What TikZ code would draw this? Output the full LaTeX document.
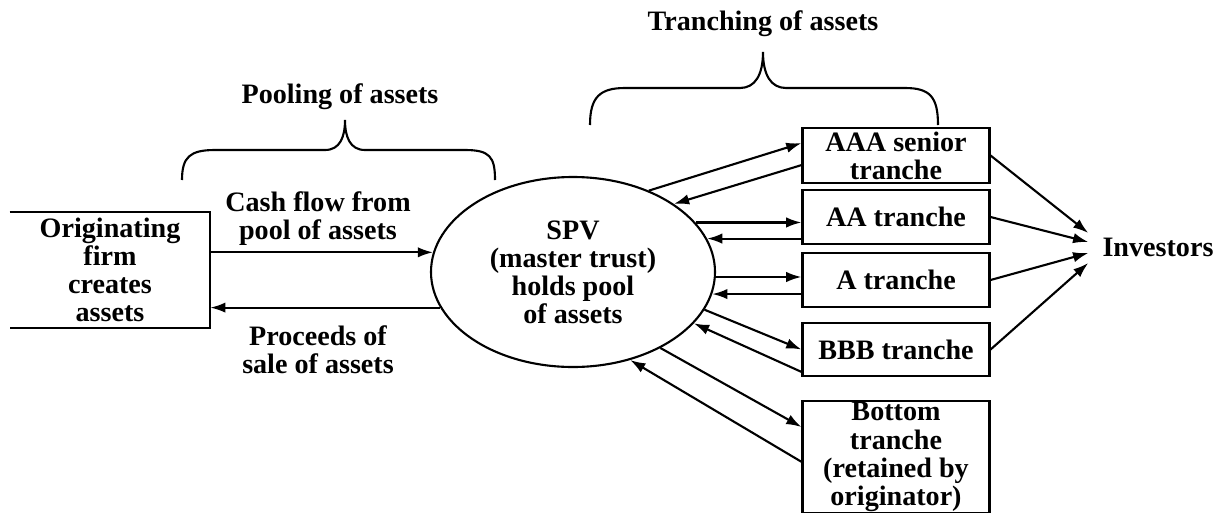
\documentclass[tikz,border=0pt]{standalone}
\usepackage{fontspec}
\setmainfont{Liberation Serif}
\usetikzlibrary{arrows.meta,shapes.geometric}

\begin{document}
\begin{tikzpicture}[x=0.25mm,y=-0.25mm,
    every node/.style={font=\fontsize{20}{20}\selectfont\bfseries,align=center},
    box/.style={draw,line width=1.5pt,minimum width=46.75mm,inner sep=1pt},
    flow/.style={-{Latex[length=3.8mm,width=2.6mm]},line width=1.5pt},
    brace/.style={line width=1.5pt}]
  \useasboundingbox (0,0) rectangle (1222,512);

  % originating firm
  \node[minimum width=50mm,minimum height=29mm,inner sep=1pt] (firm) at (110,270) {Originating\\firm\\creates\\assets};
  \draw[line width=1.5pt] (firm.north west) -- (firm.north east) -- (firm.south east) -- (firm.south west);

  % SPV
  \node[ellipse,draw,line width=1.5pt,minimum width=71mm,minimum height=47.5mm,inner sep=0pt] (spv) at (573,272) {SPV\\(master trust)\\holds pool\\of assets};

  % flows between firm and SPV
  \draw[flow] (spv.172 -| firm.east) -- (spv.172);
  \draw[flow] (spv.195) -- (spv.195 -| firm.east);
  \node (cash) at (318,219) {Cash flow from\\pool of assets};
  \node (proc) at (318,350) {Proceeds of\\sale of assets};

  % tranches
  \node[box,minimum height=13.75mm] (aaa) at (896,155.5) {AAA senior\\tranche};
  \node[box,minimum height=13.5mm] (aa) at (896,217) {AA tranche};
  \node[box,minimum height=13.5mm] (a) at (896,280) {A tranche};
  \node[box,minimum height=13.25mm] (bbb) at (896,349.5) {BBB tranche};
  \node[box,minimum height=27.5mm] (bot) at (896,457) {Bottom\\tranche\\(retained by\\originator)};

  % SPV <-> tranches
  \draw[flow] (spv.47) -- ([yshift=3.1mm]aaa.west);
  \draw[flow] ([yshift=-2.4mm]aaa.west) -- (spv.34);
  \draw[flow] (spv.22) -- (spv.22 -| aa.west);
  \draw[flow] (spv.14 -| aa.west) -- (spv.14);
  \draw[flow] (spv.358) -- (spv.358 -| a.west);
  \draw[flow] (spv.351 -| a.west) -- (spv.351);
  \draw[flow] (spv.344) -- (bbb.west);
  \draw[flow] ([yshift=-5.6mm]bbb.west) -- (spv.337);
  \draw[flow] (spv.319) -- ([yshift=7.5mm]bot.west);
  \draw[flow] ([yshift=-1.2mm]bot.west) -- (spv.303);

  % investors
  \node[inner sep=3.5mm] (inv) at (1158,247) {Investors};
  \draw[flow] (aaa.east) -- ([yshift=3.5mm]inv.west);
  \draw[flow] (aa.east) -- ([yshift=1.25mm]inv.west);
  \draw[flow] (a.east) -- ([yshift=-1.5mm]inv.west);
  \draw[flow] (bbb.east) -- ([yshift=-4mm]inv.west);

  % braces
  \node (pool) at (340,97) {Pooling of assets};
  \draw[brace] (182,180) .. controls (182,157) and (190,150) .. (215,150) -- (325,150)
    .. controls (340,150) and (345,137) .. (345,120)
    .. controls (345,137) and (350,150) .. (365,150) -- (465,150)
    .. controls (490,150) and (495,157) .. (495,180);
  \node (tranch) at (763,24) {Tranching of assets};
  \draw[brace] (590,125) .. controls (590,97) and (600,88) .. (625,88) -- (740,88)
    .. controls (755,88) and (763,75) .. (763,52)
    .. controls (763,75) and (771,88) .. (786,88) -- (905,88)
    .. controls (930,88) and (938,97) .. (938,125);
\end{tikzpicture}
\end{document}
